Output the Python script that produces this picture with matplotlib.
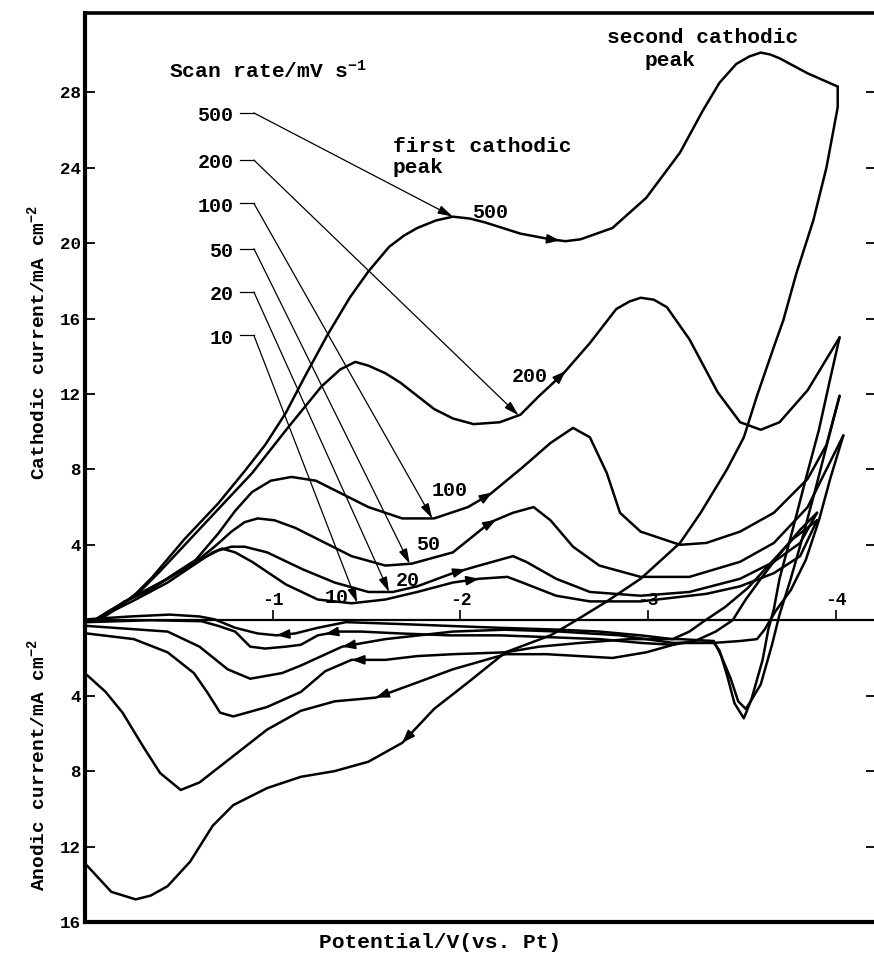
import matplotlib
matplotlib.use('Agg')
import numpy as np
import matplotlib.pyplot as plt

plt.rcParams['font.family'] = ['Liberation Mono', 'DejaVu Sans Mono']
plt.rcParams['font.weight'] = 'bold'
plt.rcParams['mathtext.fontset'] = 'custom'
plt.rcParams['mathtext.rm'] = 'Liberation Mono:bold'
plt.rcParams['mathtext.it'] = 'Liberation Mono:bold'
plt.rcParams['mathtext.bf'] = 'Liberation Mono:bold'
plt.rcParams['axes.unicode_minus'] = False

# cyclic voltammograms, potential in V vs Pt, current in mA cm-2 (cathodic > 0)
rates = [10, 20, 50, 100, 200, 500]

v500_fwd = [-0.05, -0.09, -0.18, -0.27, -0.36, -0.53, -0.71, -0.85, -0.96, -1.07, -1.17, -1.29, -1.41, -1.51,
            -1.62, -1.70, -1.77, -1.87, -1.96, -2.05, -2.13, -2.32, -2.48, -2.56, -2.64, -2.81, -2.99, -3.17,
            -3.29, -3.38, -3.47, -3.54, -3.60, -3.65, -3.70, -3.85, -4.01]
i500_fwd = [0.0, 0.1, 0.7, 1.4, 2.3, 4.3, 6.2, 7.9, 9.3, 11.0, 12.9, 15.1, 17.1, 18.5,
            19.8, 20.4, 20.8, 21.2, 21.4, 21.3, 21.1, 20.5, 20.2, 20.1, 20.2, 20.8, 22.4, 24.8,
            27.0, 28.5, 29.5, 29.9, 30.1, 30.0, 29.8, 29.0, 28.3]
v500_rev = [-4.01, -4.01, -3.95, -3.88, -3.79, -3.72, -3.67, -3.58, -3.51, -3.42, -3.28, -3.17, -2.96, -2.78,
            -2.60, -2.48, -2.24, -2.04, -1.86, -1.69, -1.51, -1.33, -1.15, -0.97, -0.79, -0.68, -0.56, -0.44,
            -0.35, -0.27, -0.14, -0.01]
i500_rev = [28.3, 27.2, 24.0, 21.2, 18.4, 15.9, 14.5, 11.9, 9.7, 8.0, 5.7, 4.1, 2.2, 1.0,
            -0.1, -0.8, -1.7, -3.3, -4.7, -6.5, -7.5, -8.0, -8.3, -8.9, -9.8, -10.9, -12.8, -14.1,
            -14.6, -14.8, -14.4, -13.0]

v200_fwd = [-0.05, -0.11, -0.19, -0.29, -0.40, -0.56, -0.72, -0.89, -1.08, -1.26, -1.36, -1.44, -1.51, -1.60,
            -1.68, -1.77, -1.86, -1.96, -2.07, -2.21, -2.32, -2.42, -2.55, -2.69, -2.83, -2.90, -2.96, -3.03,
            -3.10, -3.22, -3.37, -3.49, -3.60, -3.70, -3.85, -4.02]
i200_fwd = [0.0, 0.3, 0.8, 1.5, 2.6, 4.3, 6.0, 7.8, 10.2, 12.4, 13.3, 13.7, 13.5, 13.1,
            12.6, 11.9, 11.2, 10.7, 10.4, 10.5, 10.9, 11.9, 13.1, 14.7, 16.5, 16.9, 17.1, 17.0,
            16.6, 14.9, 12.1, 10.5, 10.1, 10.5, 12.2, 15.0]
v200_rev = [-4.02, -3.97, -3.91, -3.84, -3.77, -3.70, -3.67, -3.64, -3.61, -3.55, -3.51, -3.46, -3.42, -3.38,
            -3.35, -3.17, -2.99, -2.81, -2.46, -2.24, -1.96, -1.77, -1.55, -1.33, -1.15, -0.97, -0.79, -0.61,
            -0.51, -0.40, -0.31, -0.20, -0.11, -0.01]
i200_rev = [15.0, 12.8, 10.1, 7.5, 4.8, 2.2, 0.6, -0.5, -2.1, -4.2, -5.2, -4.4, -2.9, -1.6,
            -1.2, -1.2, -1.7, -2.0, -1.8, -1.8, -2.6, -3.3, -4.1, -4.3, -4.8, -5.8, -7.2, -8.6,
            -9.0, -8.1, -6.7, -4.9, -3.8, -2.9]

v100_fwd = [-0.05, -0.11, -0.21, -0.35, -0.45, -0.59, -0.71, -0.80, -0.89, -0.99, -1.10, -1.23, -1.33, -1.51,
            -1.69, -1.86, -2.04, -2.16, -2.33, -2.48, -2.60, -2.69, -2.78, -2.85, -2.96, -3.17, -3.31, -3.49,
            -3.67, -3.85, -3.95, -4.02]
i100_fwd = [0.0, 0.3, 1.0, 1.6, 2.3, 3.2, 4.6, 5.8, 6.8, 7.4, 7.6, 7.4, 6.9, 6.0,
            5.4, 5.4, 6.0, 6.7, 8.1, 9.4, 10.2, 9.7, 7.8, 5.7, 4.7, 4.0, 4.1, 4.7,
            5.7, 7.5, 9.3, 11.9]
v100_rev = [-4.02, -3.96, -3.89, -3.82, -3.76, -3.70, -3.66, -3.60, -3.54, -3.52, -3.48, -3.44, -3.39, -3.35,
            -3.17, -2.90, -2.64, -2.42, -2.24, -1.96, -1.77, -1.60, -1.42, -1.28, -1.15, -0.97, -0.79, -0.72,
            -0.65, -0.58, -0.44, -0.26, -0.01]
i100_rev = [11.9, 9.6, 6.9, 4.3, 2.2, 0.3, -1.3, -3.4, -4.4, -4.7, -4.3, -3.1, -1.9, -1.1,
            -1.0, -1.0, -1.2, -1.4, -1.7, -1.8, -1.9, -2.1, -2.1, -2.7, -3.8, -4.6, -5.1, -4.9,
            -3.8, -2.8, -1.7, -1.0, -0.7]

v50_fwd = [-0.05, -0.13, -0.27, -0.44, -0.59, -0.69, -0.78, -0.85, -0.92, -1.01, -1.12, -1.24, -1.42, -1.60,
           -1.74, -1.96, -2.16, -2.28, -2.39, -2.48, -2.60, -2.74, -2.96, -3.22, -3.49, -3.67, -3.85, -4.04]
i50_fwd = [0.0, 0.5, 1.3, 2.2, 3.1, 3.9, 4.7, 5.2, 5.4, 5.3, 4.9, 4.3, 3.4, 2.9,
           3.0, 3.6, 5.2, 5.7, 6.0, 5.3, 3.9, 2.9, 2.3, 2.3, 3.1, 4.1, 6.0, 9.8]
v50_rev = [-4.04, -3.97, -3.91, -3.84, -3.76, -3.68, -3.62, -3.58, -3.49, -3.35, -3.13, -2.85, -2.53, -2.24,
           -1.96, -1.60, -1.37, -1.15, -1.05, -0.88, -0.76, -0.61, -0.44, -0.01]
i50_rev = [9.8, 7.5, 5.3, 3.2, 1.6, 0.5, -0.5, -1.0, -1.1, -1.2, -1.2, -0.8, -0.6, -0.5,
           -0.6, -1.0, -1.4, -2.4, -2.8, -3.1, -2.6, -1.4, -0.6, -0.3]

v20_fwd = [-0.05, -0.13, -0.27, -0.44, -0.59, -0.71, -0.78, -0.85, -0.97, -1.16, -1.33, -1.51, -1.64, -1.77,
           -1.96, -2.10, -2.28, -2.35, -2.51, -2.69, -2.96, -3.22, -3.49, -3.67, -3.81, -3.90]
i20_fwd = [0.0, 0.5, 1.3, 2.2, 3.1, 3.7, 3.9, 3.9, 3.6, 2.7, 2.0, 1.5, 1.5, 1.8,
           2.5, 2.9, 3.4, 3.1, 2.2, 1.5, 1.3, 1.5, 2.2, 3.1, 4.1, 5.7]
v20_rev = [-3.90, -3.81, -3.70, -3.60, -3.52, -3.45, -3.36, -3.25, -3.13, -2.96, -2.74, -2.48, -2.21, -1.94,
           -1.68, -1.47, -1.35, -1.24, -1.15, -1.07, -0.96, -0.88, -0.80, -0.71, -0.62, -0.35, -0.01]
i20_rev = [5.7, 4.8, 3.5, 2.2, 1.1, 0.0, -0.6, -1.1, -1.3, -1.2, -1.0, -0.9, -0.8, -0.8,
           -0.7, -0.6, -0.6, -0.8, -1.3, -1.4, -1.5, -1.4, -0.6, -0.3, -0.05, 0.0, -0.1]

v10_fwd = [-0.05, -0.13, -0.27, -0.44, -0.59, -0.68, -0.73, -0.80, -0.89, -1.07, -1.24, -1.42, -1.60, -1.77,
           -1.96, -2.10, -2.25, -2.33, -2.51, -2.69, -2.96, -3.31, -3.49, -3.67, -3.81, -3.90]
i10_fwd = [0.0, 0.4, 1.1, 2.0, 3.0, 3.6, 3.8, 3.6, 3.1, 1.9, 1.1, 0.9, 1.1, 1.5,
           2.0, 2.2, 2.3, 2.0, 1.3, 1.0, 1.0, 1.4, 1.8, 2.5, 3.4, 5.3]
v10_rev = [-3.90, -3.77, -3.65, -3.53, -3.41, -3.29, -3.22, -3.13, -2.96, -2.74, -2.53, -2.21, -1.94, -1.68,
           -1.39, -1.24, -1.12, -1.02, -0.92, -0.80, -0.69, -0.61, -0.45, -0.24, -0.01]
i10_rev = [5.3, 4.3, 3.0, 1.7, 0.7, -0.1, -0.6, -1.0, -0.8, -0.6, -0.5, -0.4, -0.3, -0.2,
           -0.1, -0.4, -0.7, -0.8, -0.7, -0.4, 0.05, 0.2, 0.3, 0.2, 0.05]

curves = {
    500: (v500_fwd, i500_fwd, v500_rev, i500_rev),
    200: (v200_fwd, i200_fwd, v200_rev, i200_rev),
    100: (v100_fwd, i100_fwd, v100_rev, i100_rev),
    50: (v50_fwd, i50_fwd, v50_rev, i50_rev),
    20: (v20_fwd, i20_fwd, v20_rev, i20_rev),
    10: (v10_fwd, i10_fwd, v10_rev, i10_rev),
}

# where the direction arrows sit on each branch (potential, V)
fwd_arrow_at = {500: -2.53, 200: -2.56, 100: -2.17, 50: -2.19, 20: -2.03, 10: -2.10}
rev_arrow_at = {500: -1.69, 200: -1.55, 100: -1.42, 50: -1.37, 20: -1.28, 10: -1.02}

# scan-rate key on the left: label height and the potential its leader points to
key_level = {500: 26.9, 200: 24.4, 100: 22.1, 50: 19.7, 20: 17.4, 10: 15.1}
key_target = {500: -1.96, 200: -2.31, 100: -1.85, 50: -1.73, 20: -1.62, 10: -1.45}

# labels placed next to the curves
curve_label_pos = {500: (-2.16, 21.6), 200: (-2.37, 12.9), 100: (-1.94, 6.9),
                   50: (-1.83, 4.0), 20: (-1.72, 2.1), 10: (-1.34, 1.2)}

y_ticks = [28, 24, 20, 16, 12, 8, 4, -4, -8, -12, -16]
x_ticks = [-1, -2, -3, -4]

ylo, yhi = -16, 32.2

fig = plt.figure(figsize=(8.74, 9.61), dpi=100)
ax = fig.add_axes([85 / 874, 39 / 961, 791 / 874, 909 / 961])
ax.set_xlim(0, -4.214)
ax.set_ylim(ylo, yhi)

for side in ('left', 'bottom'):
    ax.spines[side].set_linewidth(3.0)
ax.spines['top'].set_linewidth(2.6)
ax.spines['right'].set_visible(False)

ax.set_xticks([])
ax.set_yticks(y_ticks)
ax.set_yticklabels([str(abs(t)) for t in y_ticks])
ax.tick_params(axis='y', direction='in', length=7, width=1.3, left=True, right=True,
               labelsize=12.6, pad=3)

# potential axis drawn along zero current, ticks and labels above it
zero_frac = (0 - ylo) / (yhi - ylo)
sec = ax.secondary_xaxis(zero_frac)
sec.set_alignment('top')
sec.set_xticks(x_ticks)
sec.set_xticklabels([str(t) for t in x_ticks])
sec.tick_params(direction='out', length=7, width=1.2, pad=1, labelsize=13)
for s in sec.spines.values():
    s.set_linewidth(1.6)


def interp_on(v, i, at):
    v = np.asarray(v, float)
    i = np.asarray(i, float)
    order = np.argsort(v, kind='stable')
    return np.interp(at, v[order], i[order])


def direction_arrow(v, i, at, step):
    v0 = at - step
    ax.annotate('', xy=(at, interp_on(v, i, at)), xytext=(v0, interp_on(v, i, v0)),
                arrowprops=dict(arrowstyle='-|>,head_length=0.6,head_width=0.22', color='k',
                                lw=1.2, mutation_scale=13, shrinkA=0, shrinkB=0))


for r in rates:
    vf, jf, vr, jr = curves[r]
    ax.plot(vf, jf, color='k', lw=1.8, solid_joinstyle='round', solid_capstyle='round')
    ax.plot(vr, jr, color='k', lw=1.8, solid_joinstyle='round', solid_capstyle='round')
    direction_arrow(vf, jf, fwd_arrow_at[r], -0.05)
    direction_arrow(vr, jr, rev_arrow_at[r], 0.05)

    # key entry with its leader line
    yl = key_level[r]
    ax.text(-0.79, yl - 0.15, str(r), ha='right', va='center', fontsize=14.4)
    ax.plot([-0.826, -0.90], [yl, yl], color='k', lw=0.9)
    vt = key_target[r]
    ax.annotate('', xy=(vt, interp_on(vf, jf, vt)), xytext=(-0.90, yl),
                arrowprops=dict(arrowstyle='-|>,head_length=0.7,head_width=0.2', color='k',
                                lw=0.9, mutation_scale=13, shrinkA=0, shrinkB=0))

    lx, ly = curve_label_pos[r]
    ax.text(lx, ly, str(r), ha='center', va='center', fontsize=14.4)

ax.text(-0.45, 29.15, 'Scan rate/mV s$^{-1}$', ha='left', va='center', fontsize=15.3)
ax.text(-1.64, 25.1, 'first cathodic', ha='left', va='center', fontsize=15.3)
ax.text(-1.64, 24.0, 'peak', ha='left', va='center', fontsize=15.3)
ax.text(-2.78, 30.9, 'second cathodic', ha='left', va='center', fontsize=15.3)
ax.text(-2.98, 29.7, 'peak', ha='left', va='center', fontsize=15.3)

fig.text(37 / 874, 1 - 342 / 961, 'Cathodic current/mA cm$^{-2}$', rotation=90,
         ha='center', va='center', fontsize=14)
fig.text(37 / 874, 1 - 765 / 961, 'Anodic current/mA cm$^{-2}$', rotation=90,
         ha='center', va='center', fontsize=14)
fig.text(440 / 874, 1 - 942 / 961, 'Potential/V(vs. Pt)', ha='center', va='center', fontsize=15.3)

fig.savefig('out.png', dpi=100)
